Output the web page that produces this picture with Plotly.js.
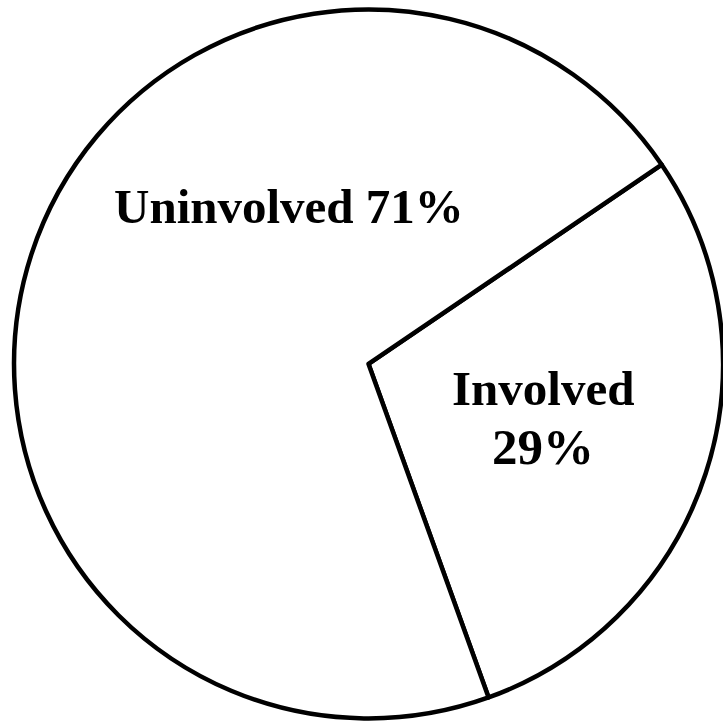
<!DOCTYPE html>
<html>
<head>
<meta charset="utf-8">
<script src="https://cdn.plot.ly/plotly-3.0.1.min.js"></script>
<style>
html,body{margin:0;padding:0;background:#fff;overflow:hidden;}
#chart{width:723px;height:723px;}
</style>
</head>
<body>
<div id="chart"></div>
<script>
const categories = ["Involved", "Uninvolved"];
const values = [29, 71];
const labelTexts = ["Involved", "29%", "Uninvolved 71%"];

const data = [{
  type: "pie",
  labels: categories,
  values: values,
  sort: false,
  direction: "clockwise",
  rotation: 55.8,
  textinfo: "none",
  hoverinfo: "none",
  marker: {colors: ["#ffffff", "#ffffff"], line: {color: "#000000", width: 4.5}},
  domain: {x: [0.0194, 1.0], y: [0.0062, 0.987]},
  showlegend: false
}];

const font = {family: "Liberation Serif, Times New Roman, serif", size: 49, color: "#000"};
const layout = {
  width: 723, height: 723,
  margin: {l: 0, r: 0, t: 0, b: 0},
  paper_bgcolor: "#fff",
  showlegend: false,
  annotations: [
    {text: "<b>" + labelTexts[2] + "</b>", x: 289/723, y: 1 - 206/723, xref: "paper", yref: "paper", xanchor: "center", yanchor: "middle", showarrow: false, font: font},
    {text: "<b>" + labelTexts[0] + "</b>", x: 543/723, y: 1 - 388/723, xref: "paper", yref: "paper", xanchor: "center", yanchor: "middle", showarrow: false, font: font},
    {text: "<b>" + labelTexts[1] + "</b>", x: 543/723, y: 1 - 447/723, xref: "paper", yref: "paper", xanchor: "center", yanchor: "middle", showarrow: false, font: {family: font.family, size: 51, color: "#000"}}
  ]
};

Plotly.newPlot("chart", data, layout, {staticPlot: true, displayModeBar: false});
</script>
</body>
</html>
